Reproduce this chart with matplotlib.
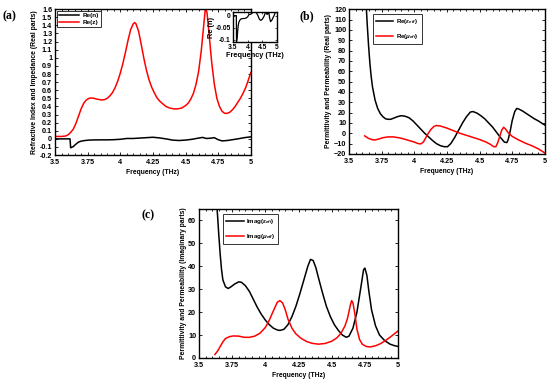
import matplotlib
matplotlib.use("Agg")
import matplotlib.pyplot as plt
from matplotlib.ticker import MultipleLocator

plt.rcParams['font.family'] = ['Liberation Sans', 'DejaVu Sans']
plt.rcParams['font.weight'] = 'bold'
plt.rcParams['mathtext.fontset'] = 'custom'
plt.rcParams['mathtext.rm'] = 'Liberation Sans:bold'
plt.rcParams['mathtext.it'] = 'Liberation Sans:italic:bold'

# ---------------- data ----------------
# (a) Re(z)
f_z = [3.50, 3.55, 3.58, 3.60, 3.62, 3.64, 3.66, 3.68, 3.70, 3.72, 3.74, 3.76, 3.78, 3.80,
       3.82, 3.84, 3.86, 3.88, 3.90, 3.92, 3.94, 3.96, 3.98, 4.00, 4.02, 4.04, 4.06, 4.08,
       4.10, 4.11, 4.12, 4.14, 4.16, 4.18, 4.20, 4.22, 4.24, 4.26, 4.28, 4.30, 4.32, 4.35,
       4.38, 4.41, 4.44, 4.47, 4.50, 4.52, 4.54, 4.56, 4.58, 4.60, 4.62, 4.635, 4.65, 4.655,
       4.665, 4.68, 4.70, 4.72, 4.74, 4.76, 4.78, 4.80, 4.82, 4.84, 4.86, 4.88, 4.90, 4.92,
       4.94, 4.96, 4.98, 5.00]
re_z = [0.03, 0.03, 0.035, 0.05, 0.08, 0.12, 0.19, 0.28, 0.37, 0.44, 0.48, 0.50, 0.505, 0.50,
        0.49, 0.485, 0.48, 0.485, 0.50, 0.53, 0.57, 0.63, 0.71, 0.81, 0.93, 1.07, 1.22, 1.35,
        1.42, 1.435, 1.42, 1.33, 1.17, 1.00, 0.85, 0.73, 0.64, 0.57, 0.51, 0.47, 0.44, 0.40,
        0.38, 0.37, 0.37, 0.38, 0.41, 0.44, 0.49, 0.56, 0.67, 0.83, 1.08, 1.33, 1.58, 1.62,
        1.55, 1.30, 0.95, 0.68, 0.50, 0.40, 0.34, 0.315, 0.315, 0.33, 0.36, 0.40, 0.45, 0.50,
        0.56, 0.63, 0.72, 0.82]

# (a) Re(n)
f_n = [3.50, 3.615, 3.62, 3.64, 3.66, 3.68, 3.70, 3.73, 3.76, 3.80, 3.85, 3.90, 3.95, 4.00,
       4.05, 4.10, 4.15, 4.20, 4.25, 4.30, 4.35, 4.40, 4.45, 4.50, 4.55, 4.60, 4.63, 4.66,
       4.69, 4.72, 4.75, 4.78, 4.82, 4.86, 4.90, 4.95, 5.00]
re_n = [0.0, 0.0, -0.11, -0.095, -0.065, -0.04, -0.028, -0.02, -0.015, -0.013, -0.012, -0.012,
        -0.01, -0.005, 0.005, 0.005, 0.01, 0.015, 0.02, 0.012, 0.0, -0.015, -0.02, -0.015,
        -0.005, 0.01, 0.018, 0.005, 0.008, 0.015, -0.01, -0.025, -0.02, -0.01, 0.0, 0.015, 0.025]

# (b) Re(eps_eff)
f_eps_r = [3.62, 3.63, 3.64, 3.65, 3.66, 3.67, 3.68, 3.70, 3.72, 3.74, 3.76, 3.78, 3.80, 3.82,
           3.84, 3.87, 3.90, 3.93, 3.96, 3.99, 4.02, 4.05, 4.08, 4.11, 4.14, 4.17, 4.20, 4.23,
           4.255, 4.28, 4.31, 4.34, 4.37, 4.40, 4.43, 4.45, 4.48, 4.51, 4.54, 4.57, 4.60, 4.63,
           4.66, 4.69, 4.71, 4.72, 4.735, 4.75, 4.77, 4.785, 4.80, 4.83, 4.86, 4.89, 4.92, 4.95,
           4.98, 5.00]
eps_r = [150, 128, 105, 85, 68, 55, 45, 32, 24, 19, 16, 14, 13.5, 13.5,
         14.5, 16, 17, 16.5, 15, 12, 8, 4, 0, -3.5, -7, -10, -12, -13,
         -13, -10, -4, 3, 10, 16, 20.5, 21, 19.5, 17, 14, 10, 6, 1,
         -4, -8.5, -9, -6, 2, 12, 21, 24, 23.5, 21.5, 19, 16.5, 14, 12,
         9.5, 8]

# (b) Re(mu_eff)
f_mu_r = [3.62, 3.65, 3.68, 3.70, 3.73, 3.76, 3.80, 3.84, 3.88, 3.92, 3.96, 4.00, 4.03, 4.05,
          4.07, 4.09, 4.11, 4.13, 4.15, 4.17, 4.20, 4.25, 4.30, 4.35, 4.40, 4.45, 4.50, 4.55,
          4.58, 4.61, 4.625, 4.64, 4.655, 4.67, 4.685, 4.70, 4.72, 4.75, 4.80, 4.85, 4.90, 4.95,
          5.00]
mu_r = [-2.5, -5, -6.3, -6.5, -5.5, -4.3, -3.5, -3.5, -4.3, -5.5, -7, -8.5, -10, -10.3,
        -8.5, -4, 0.5, 4, 6.5, 7.5, 7, 5, 2.5, 0, -2, -4, -6, -8.5,
        -10.5, -13, -13, -9, -3, 3, 5.8, 4, 0.5, -3, -6.5, -9.5, -12, -15,
        -19]

# (c) Imag(eps_eff)
f_eps_i = [3.62, 3.63, 3.64, 3.65, 3.66, 3.67, 3.68, 3.70, 3.72, 3.74, 3.77, 3.80, 3.82, 3.85,
           3.88, 3.91, 3.94, 3.97, 4.00, 4.03, 4.06, 4.09, 4.11, 4.14, 4.17, 4.20, 4.23, 4.26,
           4.29, 4.32, 4.34, 4.36, 4.38, 4.40, 4.43, 4.46, 4.49, 4.52, 4.55, 4.58, 4.61, 4.63,
           4.66, 4.69, 4.72, 4.74, 4.75, 4.765, 4.78, 4.80, 4.83, 4.86, 4.90, 4.94, 4.97, 5.00]
eps_i = [80, 70, 62, 53, 45, 38.5, 34, 31, 30.3, 31, 32.3, 33.2, 33, 31.5,
         29, 25.5, 22, 19, 16.5, 14.5, 13, 12.2, 12, 12.5, 14.5, 18, 22.5, 28,
         34, 40, 43, 42.5, 39.5, 35, 28.5, 22.5, 18, 14.5, 12, 10, 9, 9.5,
         13, 20, 31, 38.5, 39.2, 36, 29, 21, 14, 10, 7.5, 6, 5.4, 5]

# (c) Imag(mu_eff)
f_mu_i = [3.62, 3.64, 3.66, 3.68, 3.70, 3.73, 3.76, 3.80, 3.84, 3.88, 3.92, 3.96, 4.00, 4.03,
          4.06, 4.09, 4.11, 4.13, 4.15, 4.17, 4.20, 4.23, 4.27, 4.31, 4.35, 4.40, 4.45, 4.50,
          4.54, 4.57, 4.60, 4.62, 4.64, 4.65, 4.66, 4.675, 4.69, 4.71, 4.73, 4.76, 4.79, 4.83,
          4.87, 4.91, 4.95, 5.00]
mu_i = [1.5, 3, 5, 7, 8.5, 9.3, 9.6, 9.5, 9, 9, 9.5, 10.8, 13.3, 16.5,
        20.5, 24.3, 25, 24, 21, 17, 13, 10.5, 8.5, 7.2, 6.4, 6, 6.3, 7.3,
        8.8, 10.8, 14, 17.5, 23, 25, 24, 19, 12.5, 8, 6, 5, 4.8, 5.3,
        6.3, 7.8, 9.5, 11.8]

x_ticks = [3.5, 3.75, 4, 4.25, 4.5, 4.75, 5]
x_ticklabels = ['3.5', '3.75', '4', '4.25', '4.5', '4.75', '5']
inset_xticks = [3.5, 4, 4.5, 5]
inset_yticks = [-0.1, -0.05, 0]

# ---------------- figure ----------------
fig = plt.figure(figsize=(5.5, 3.82), dpi=100)
TFS = 5.2
LFS = 4.9
LW = 1.1


def style(ax):
    ax.tick_params(which='both', direction='in', top=True, right=True, labelsize=TFS,
                   width=0.6)
    ax.tick_params(axis='x', pad=3)
    ax.tick_params(axis='y', pad=2)
    ax.tick_params(which='major', length=2.5)
    ax.tick_params(which='minor', length=1.3)
    for s in ax.spines.values():
        s.set_linewidth(1.0)
    for lab in ax.get_xticklabels() + ax.get_yticklabels():
        lab.set_fontweight('bold')


def style_legend(leg):
    leg.get_frame().set_linewidth(0.7)
    for t in leg.get_texts():
        t.set_fontweight('bold')


# (a)
axa = fig.add_axes([0.100, 0.594, 0.356, 0.382])
axa.plot(f_n, re_n, color='black', lw=LW, label='Re(n)')
axa.plot(f_z, re_z, color='red', lw=LW, label='Re(z)')
axa.set_xlim(3.5, 5)
axa.set_ylim(-0.2, 1.6)
axa.set_xticks(x_ticks)
axa.set_xticklabels(x_ticklabels)
axa.yaxis.set_major_locator(MultipleLocator(0.1))
axa.xaxis.set_minor_locator(MultipleLocator(0.05))
axa.set_yticklabels([f'{v:g}' for v in axa.get_yticks()])
axa.set_xlabel('Frequency (THz)', fontsize=LFS, fontweight='bold', labelpad=2)
axa.set_ylabel('Refractive Index and Impedance (Real parts)', fontsize=LFS,
               fontweight='bold', labelpad=1)
style(axa)
leg = axa.legend(loc='upper left', fontsize=4.6, frameon=True, fancybox=False,
                 edgecolor='black', borderpad=0.3, handlelength=3.2, labelspacing=0.2,
                 handletextpad=0.5, borderaxespad=0.3)
style_legend(leg)

# inset
axi = fig.add_axes([0.4236, 0.890, 0.080, 0.0786])
axi.plot(f_n, re_n, color='black', lw=0.9)
axi.set_xlim(3.5, 5)
axi.set_ylim(-0.11, 0.015)
axi.set_xticks(inset_xticks)
axi.set_xticklabels(['3.5', '4', '4.5', '5'])
axi.set_yticks(inset_yticks)
axi.set_yticklabels(['-0.1', '-0.05', '0'])
axi.tick_params(which='both', direction='in', top=True, right=True, labelsize=4.9,
                length=1.5, width=0.5, pad=1.5)
for s in axi.spines.values():
    s.set_linewidth(1.0)
for lab in axi.get_xticklabels() + axi.get_yticklabels():
    lab.set_fontweight('bold')
axi.set_xlabel('Frequency (THz)', fontsize=5.3, fontweight='bold', labelpad=0.5)
axi.set_ylabel('Re (n)', fontsize=5.3, fontweight='bold', labelpad=0.5)

# (b)
axb = fig.add_axes([0.6345, 0.597, 0.356, 0.379])
axb.plot(f_eps_r, eps_r, color='black', lw=LW, label=r'Re($\epsilon_{eff}$)')
axb.plot(f_mu_r, mu_r, color='red', lw=LW, label=r'Re($\mu_{eff}$)')
axb.set_xlim(3.5, 5)
axb.set_ylim(-20, 120)
axb.set_xticks(x_ticks)
axb.set_xticklabels(x_ticklabels)
axb.yaxis.set_major_locator(MultipleLocator(10))
axb.xaxis.set_minor_locator(MultipleLocator(0.05))
axb.set_xlabel('Frequency (THz)', fontsize=LFS, fontweight='bold', labelpad=2)
axb.set_ylabel('Permittivity and Permeability (Real parts)', fontsize=LFS,
               fontweight='bold', labelpad=1)
style(axb)
legb = axb.legend(loc='upper left', bbox_to_anchor=(0.105, 0.985), fontsize=4.4,
                  frameon=True, fancybox=False, edgecolor='black', borderpad=0.5,
                  handlelength=2.9, handletextpad=0.4, labelspacing=0.9)
style_legend(legb)

# (c)
axc = fig.add_axes([0.3618, 0.063, 0.362, 0.390])
axc.plot(f_eps_i, eps_i, color='black', lw=LW, label=r'Imag($\epsilon_{eff}$)')
axc.plot(f_mu_i, mu_i, color='red', lw=LW, label=r'Imag($\mu_{eff}$)')
axc.set_xlim(3.5, 5)
axc.set_ylim(0, 65)
axc.set_xticks(x_ticks)
axc.set_xticklabels(x_ticklabels)
axc.yaxis.set_major_locator(MultipleLocator(10))
axc.xaxis.set_minor_locator(MultipleLocator(0.05))
axc.set_xlabel('Frequency (THz)', fontsize=LFS, fontweight='bold', labelpad=2)
axc.set_ylabel('Permittivity and Permeability (Imaginary parts)', fontsize=LFS,
               fontweight='bold', labelpad=1)
style(axc)
legc = axc.legend(loc='upper left', bbox_to_anchor=(0.105, 0.985), fontsize=4.4,
                  frameon=True, fancybox=False, edgecolor='black', borderpad=0.5,
                  handlelength=2.9, handletextpad=0.4, labelspacing=0.9)
style_legend(legc)

# panel letters
fig.text(0.004, 0.972, '(a)', fontsize=8.5, fontweight='bold', family='Liberation Serif',
         va='top', ha='left')
fig.text(0.545, 0.972, '(b)', fontsize=8.5, fontweight='bold', family='Liberation Serif',
         va='top', ha='left')
fig.text(0.258, 0.453, '(c)', fontsize=8.5, fontweight='bold', family='Liberation Serif',
         va='top', ha='left')

fig.savefig('out.png', dpi=100)
